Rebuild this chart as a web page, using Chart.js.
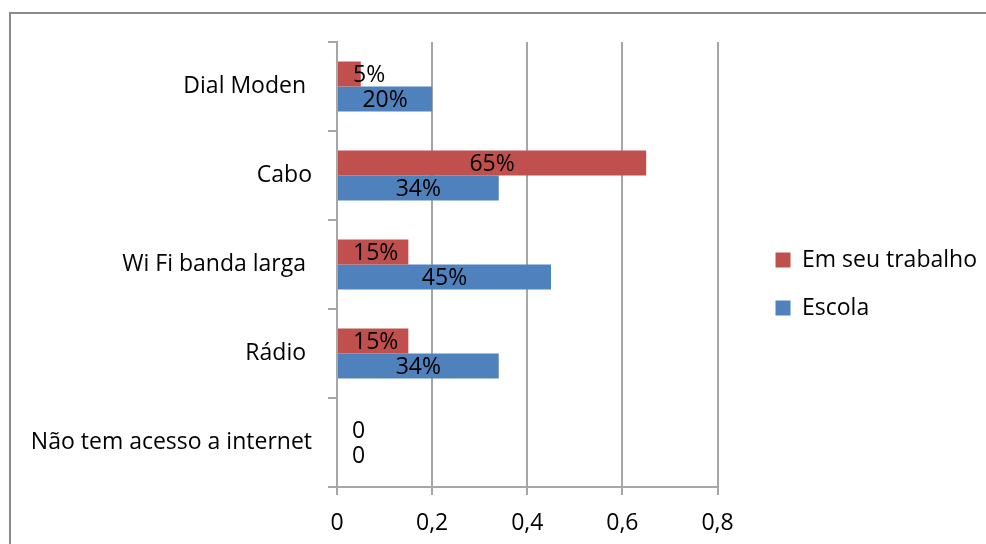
<!DOCTYPE html>
<html>
<head>
<meta charset="utf-8">
<script src="https://cdn.jsdelivr.net/npm/chart.js@4/dist/chart.umd.min.js"></script>
<style>
  html, body { margin: 0; padding: 0; background: #fff; }
  #wrap { position: relative; width: 986px; height: 544px; overflow: hidden; }
  #frame { position: absolute; left: 9px; top: 12px; width: 1200px; height: 800px;
    border-top: 2px solid #8a8a8a; border-left: 2px solid #8a8a8a; }
  canvas { position: absolute; left: 0; top: 0; }
</style>
</head>
<body>
<div id="wrap">
  <div id="frame"></div>
  <canvas id="myChart" width="986" height="544"></canvas>
</div>
<script>
'use strict';
const categories = ['Dial Moden ', 'Cabo', 'Wi Fi banda larga ', 'Rádio ', 'Não tem acesso a internet'];
const trabalhoValues = [0.05, 0.65, 0.15, 0.15, 0];
const escolaValues = [0.20, 0.34, 0.45, 0.34, 0];
const xTickLabels = ['0', '0,2', '0,4', '0,6', '0,8'];

const fontFamily = '"Open Sans", Lato, sans-serif';
const fontSize = 23;
const lineColor = '#a6a6a6';
const legendPad = 25;

// etiquetas dentro das barras
const barLabels = {
  id: 'barLabels',
  afterDatasetsDraw(chart) {
    const ctx = chart.ctx;
    ctx.save();
    ctx.font = fontSize + 'px ' + fontFamily;
    ctx.fillStyle = '#000';
    ctx.textAlign = 'center';
    ctx.textBaseline = 'middle';
    chart.data.datasets.forEach(function (ds, i) {
      chart.getDatasetMeta(i).data.forEach(function (bar, j) {
        const v = ds.data[j];
        const txt = v === 0 ? '0' : Math.round(v * 100) + '%';
        const w = ctx.measureText(txt).width;
        const x = Math.max((bar.x + bar.base) / 2, bar.base + 15 + w / 2);
        ctx.fillText(txt, x, bar.y + 1);
      });
    });
    ctx.restore();
  }
};

// legenda um pouco mais afastada do grafico
const legendShift = {
  id: 'legendShift',
  afterLayout(chart) {
    const lg = chart.legend;
    if (!lg) return;
    const w = lg.width;
    lg.left = chart.chartArea.right + 58 - legendPad;
    lg.right = lg.left + w;
    lg.top -= 9;
    lg.bottom -= 9;
  }
};

const ctx = document.getElementById('myChart').getContext('2d');
const myChart = new Chart(ctx, {
  type: 'bar',
  data: {
    labels: categories,
    datasets: [{
      label: 'Em seu trabalho',
      data: trabalhoValues,
      backgroundColor: '#c0504d',
      borderWidth: 0
    }, {
      label: 'Escola',
      data: escolaValues,
      backgroundColor: '#4f81bd',
      borderWidth: 0
    }]
  },
  options: {
    indexAxis: 'y',
    responsive: false,
    animation: false,
    devicePixelRatio: 1,
    barPercentage: 1,
    categoryPercentage: 0.56,
    layout: { padding: { left: 0, top: 42, right: 32, bottom: 0 } },
    scales: {
      x: {
        min: 0,
        max: 0.8,
        afterFit: function (scale) { scale.height = 57; },
        ticks: {
          stepSize: 0.2,
          color: '#000',
          padding: 15,
          font: { family: fontFamily, size: fontSize },
          callback: function (v, i) { return xTickLabels[i]; }
        },
        grid: { color: lineColor, lineWidth: 2, tickLength: 8 },
        border: { color: lineColor, width: 2 }
      },
      y: {
        afterFit: function (scale) { scale.width = 337; },
        ticks: {
          color: '#000',
          padding: 16,
          font: { family: fontFamily, size: fontSize }
        },
        grid: { drawOnChartArea: false, color: lineColor, lineWidth: 2, tickLength: 9, offset: true },
        border: { color: lineColor, width: 2 }
      }
    },
    plugins: {
      legend: {
        position: 'right',
        labels: {
          boxWidth: 15,
          boxHeight: 15,
          padding: legendPad,
          color: '#000',
          font: { family: fontFamily, size: fontSize }
        }
      },
      tooltip: { enabled: false }
    }
  },
  plugins: [barLabels, legendShift]
});
</script>
</body>
</html>
